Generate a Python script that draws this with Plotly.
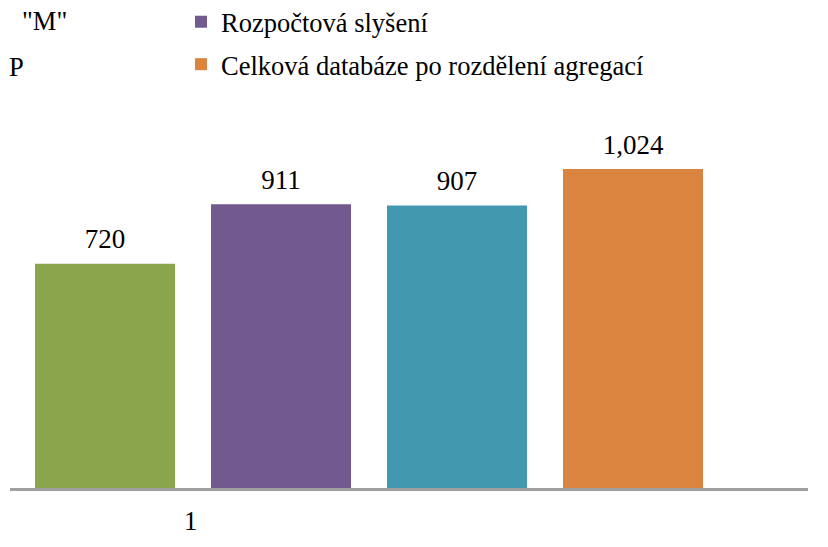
import plotly.graph_objects as go

categories = ["1"]
series_names = [
    'Řízení "M"',
    "Rozpočtová slyšení",
    "P",
    "Celková databáze po rozdělení agregací",
]
series_values = [[720], [911], [907], [1024]]
series_colors = ["#8BA54D", "#72598E", "#4298AF", "#DA843F"]
legend_visible = [False, True, False, True]

# page body adds an 8px margin, so work in a frame shifted by 8px
OFF = 8
W, H = 828 - OFF, 547 - OFF
FONT = "'Times New Roman', 'Liberation Serif', 'DejaVu Serif', serif"

L, R = 10 - OFF, 808 - OFF
B, T = 488 - OFF, 100 - OFF
px_per_unit = (488 - 169) / 1024.0
ymax = (B - T) / px_per_unit


def px(xp):
    return (xp - OFF - L) / (R - L)


def py(yp):
    return (B - (yp - OFF)) / (B - T)


fig = go.Figure()
for i, (name, vals, col, show) in enumerate(zip(series_names, series_values, series_colors, legend_visible)):
    fig.add_trace(go.Bar(
        x=categories, y=vals, name=name,
        marker=dict(color=col, line=dict(width=0)),
        offsetgroup=str(i),
        showlegend=show, legendgroup=f"g{i}",
        hoverinfo="skip",
    ))
for i, vals in enumerate(series_values):
    fig.add_trace(go.Scatter(
        x=categories, y=vals, mode="markers+text",
        marker=dict(size=12, opacity=0),
        text=vals, texttemplate="%{y:,}", textposition="top center",
        textfont=dict(family=FONT, size=27, color="#000000"),
        offsetgroup=str(i), cliponaxis=False,
        showlegend=False, hoverinfo="skip",
    ))

fig.update_layout(
    width=W, height=H,
    margin=dict(l=L, r=W - R, t=T, b=H - B, autoexpand=False),
    paper_bgcolor="white", plot_bgcolor="white",
    barmode="group", bargap=0.0, bargroupgap=0.2045,
    scattermode="group", scattergap=0.0,
    font=dict(family=FONT, size=26.5, color="#000000"),
    xaxis=dict(type="category", range=[-0.51, 0.6236], showticklabels=False,
               showline=True, linecolor="#A0A0A0", linewidth=3, ticks="",
               showgrid=False, zeroline=False, fixedrange=True),
    yaxis=dict(range=[0, ymax], visible=False, showgrid=False, zeroline=False),
    legend=dict(x=px(181), xanchor="left",
                y=py(-2), yanchor="top",
                orientation="v", tracegroupgap=5,
                font=dict(family=FONT, size=26.5, color="#000000"),
                itemwidth=30, bgcolor="rgba(0,0,0,0)"),
    showlegend=True,
)

# clipped left-column legend fragments and category label
fig.add_annotation(text='"M"', xref="paper", x=px(20), xanchor="left",
                   yref="paper", y=py(21), yanchor="middle",
                   showarrow=False, font=dict(family=FONT, size=26.5))
fig.add_annotation(text="P", xref="paper", x=px(7), xanchor="left",
                   yref="paper", y=py(67), yanchor="middle",
                   showarrow=False, font=dict(family=FONT, size=26.5))
fig.add_annotation(text=categories[0], xref="paper", x=px(190),
                   xanchor="center", yref="paper", y=py(521),
                   yanchor="middle", showarrow=False,
                   font=dict(family=FONT, size=26.5))

fig.write_html("out.html")
